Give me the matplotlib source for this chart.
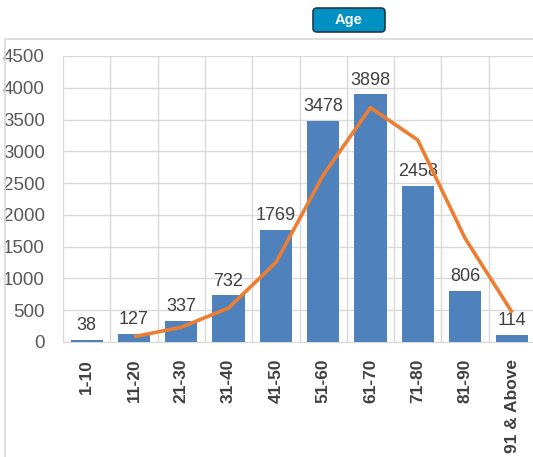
import matplotlib
matplotlib.use("Agg")
import matplotlib.pyplot as plt
from matplotlib.patches import FancyBboxPatch, Rectangle
import numpy as np

# data
categories = ["1-10", "11-20", "21-30", "31-40", "41-50", "51-60",
              "61-70", "71-80", "81-90", "91 & Above"]
counts = [38, 127, 337, 732, 1769, 3478, 3898, 2458, 806, 114]
# two-period moving average trend
trend_x = ["11-20", "21-30", "31-40", "41-50", "51-60", "61-70", "71-80", "81-90", "91 & Above"]
trend_y = [83, 232, 535, 1251, 2624, 3688, 3178, 1632, 460]

W, H = 533, 457
fig = plt.figure(figsize=(W / 100, H / 100), dpi=100)
plt.rcParams["font.family"] = ["Liberation Sans", "DejaVu Sans"]


def fx(px):
    return px / W


def fy(py):
    return 1 - py / H


# outer chart border
fig.patches.append(Rectangle((fx(5), fy(470)), 1.2, fy(39) - fy(470),
                             transform=fig.transFigure, fill=False,
                             edgecolor="#D9D9D9", linewidth=1.2))

# "Age" button
fig.patches.append(FancyBboxPatch((fx(313), fy(32)), fx(385) - fx(313), fy(8) - fy(32),
                                  boxstyle="round,pad=0,rounding_size=0.008",
                                  transform=fig.transFigure, facecolor="#0091C2",
                                  edgecolor="#1F3A4A", linewidth=1.2))
fig.text((fx(313) + fx(385)) / 2, (fy(8) + fy(32)) / 2, "Age", color="white",
         fontsize=10.5, fontweight="bold", ha="center", va="center")

ax = fig.add_axes([fx(63), fy(342), fx(536) - fx(63), fy(56) - fy(342)])
x = np.arange(len(categories))
ax.bar(x, counts, width=0.68, color="#4F81BD", zorder=2)
for xi, v in zip(x, counts):
    ax.text(xi, v + 90, str(v), ha="center", va="bottom", fontsize=13,
            color="#404040", zorder=3)

tx = [categories.index(c) for c in trend_x]
ax.plot(tx, trend_y, color="#ED7D31", linewidth=2.6, zorder=4,
        solid_capstyle="butt")

ax.set_xlim(-0.5, len(categories) - 0.5)
ax.set_ylim(0, 4500)
ax.set_yticks(np.arange(0, 4501, 500))
ax.set_xticks(x)
ax.set_xticklabels(categories, rotation=90, fontsize=12.5, fontweight="bold",
                   color="#404040")
ax.set_xticks(np.arange(-0.5, len(categories), 1), minor=True)
ax.tick_params(axis="y", length=0, pad=13, labelsize=13.5, labelcolor="#595959")
ax.tick_params(axis="x", which="both", length=0, pad=12)
ax.grid(axis="y", color="#D9D9D9", linewidth=1, zorder=0)
ax.grid(axis="x", which="minor", color="#D9D9D9", linewidth=1, zorder=0)
ax.set_axisbelow(True)
for side in ["top", "right", "left"]:
    ax.spines[side].set_visible(False)
ax.spines["bottom"].set_color("#D9D9D9")
ax.spines["bottom"].set_zorder(1)

fig.savefig("out.png", dpi=100)
